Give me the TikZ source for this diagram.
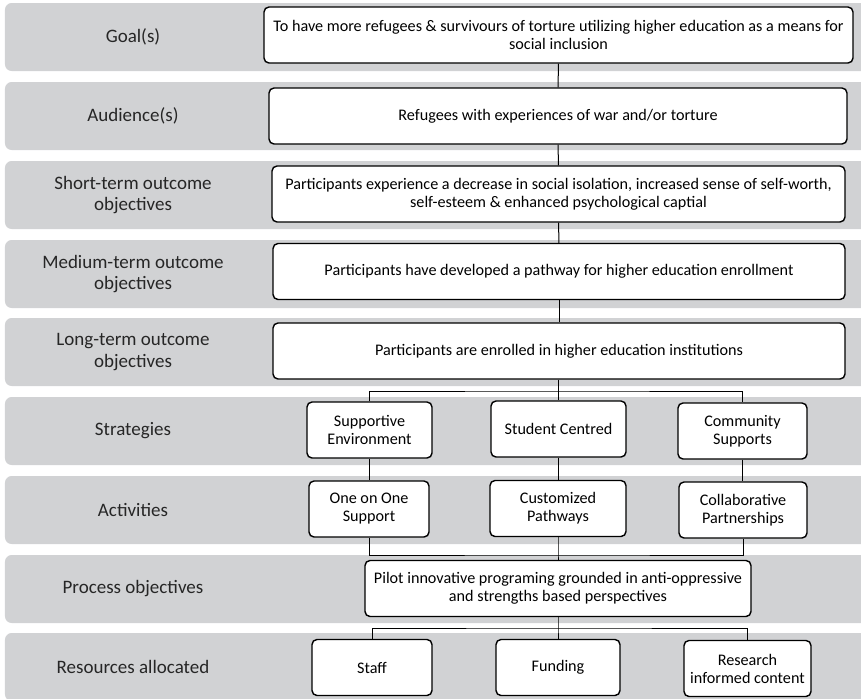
\documentclass[tikz,border=0pt]{standalone}
\usepackage{fontspec}
\setmainfont{Carlito}
\usetikzlibrary{positioning}
\definecolor{bandgray}{RGB}{209,210,212}
\newdimen\px \px=0.6pt
\tikzset{
  band/.style={fill=bandgray, draw=none, rounded corners=4pt},
  lbl/.style={align=center, font=\fontsize{11.4}{13}\selectfont, text=black!85},
  box/.style={draw, fill=white, line width=0.85pt, rounded corners=3pt, align=center,
    minimum height=56\px, inner sep=2pt, font=\fontsize{9.7}{10.8}\selectfont},
  link/.style={line width=0.6pt}
}
\begin{document}
\begin{tikzpicture}[x=\px, y=-\px]
\useasboundingbox (0,0) rectangle (861,699);
\clip (0,0) rectangle (861,699);

% Bands and their labels
\foreach \top/\name/\txt in {3/l1/Goal(s), 82/l2/Audience(s),
    161/l3/{Short-term outcome\\objectives}, 240/l4/{Medium-term outcome\\objectives},
    318/l5/{Long-term outcome\\objectives}, 397/l6/Strategies, 476/l7/Activities,
    555/l8/Process objectives, 633/l9/Resources allocated} {
  \fill[band] (5,\top) rectangle (875,\top+68);
  \node[lbl] (\name) at (133,\top+34) {\txt};
}

% Outcome chain
\node[box, minimum width=589\px] (goal) at (558.5,35)
  {To have more refugees \& survivours of torture utilizing higher education as a means for\\social inclusion};
\node[box, minimum width=578\px] (aud) at (558,116) {Refugees with experiences of war and/or torture};
\node[box, minimum width=573\px] (short) at (558.5,194)
  {Participants experience a decrease in social isolation, increased sense of self-worth,\\self-esteem \& enhanced psychological captial};
\node[box, minimum width=572\px] (med) at (559,271.5) {Participants have developed a pathway for higher education enrollment};
\node[box, minimum width=572\px] (long) at (559,351) {Participants are enrolled in higher education institutions};

% Strategies
\node[box, minimum width=125\px] (str1) at (369.5,430) {Supportive\\Environment};
\node[box, minimum width=135\px] (str2) at (558.5,429) {Student Centred};
\node[box, minimum width=129\px] (str3) at (742.5,431) {Community\\Supports};

% Activities
\node[box, minimum width=120\px] (act1) at (369,509) {One on One\\Support};
\node[box, minimum width=136\px] (act2) at (558,508.5) {Customized\\Pathways};
\node[box, minimum width=128\px] (act3) at (743,510) {Collaborative\\Partnerships};

% Process
\node[box, minimum width=386\px] (proc) at (558,588.5)
  {Pilot innovative programing grounded in anti-oppressive\\and strengths based perspectives};

% Resources
\node[box, minimum width=120\px] (res1) at (372,667.5) {Staff};
\node[box, minimum width=124\px] (res2) at (558,667.5) {Funding};
\node[box, minimum width=127\px] (res3) at (747.5,668.5) {Research\\informed content};

% Connectors
\draw[link] (goal) -- (aud);
\draw[link] (aud) -- (short);
\draw[link] (short) -- (med);
\draw[link] (med) -- (long);

\coordinate (sj) at (558.5,391);
\draw[link] (long.south -| sj) -- (sj) -- (str2);
\draw[link] (str1) |- (sj) -| (str3);

\foreach \i in {1,2,3}
  \draw[link] (str\i) -- (str\i |- act\i.north);

\coordinate (aj) at (558,555);
\draw[link] (act1) |- (aj) -| (act3);
\draw[link] (act2) -- (aj) -- (proc);

\coordinate (rj) at (558,628);
\draw[link] (proc) -- (rj) -- (res2);
\draw[link] (res1) |- (rj) -| (res3);

\end{tikzpicture}
\end{document}
